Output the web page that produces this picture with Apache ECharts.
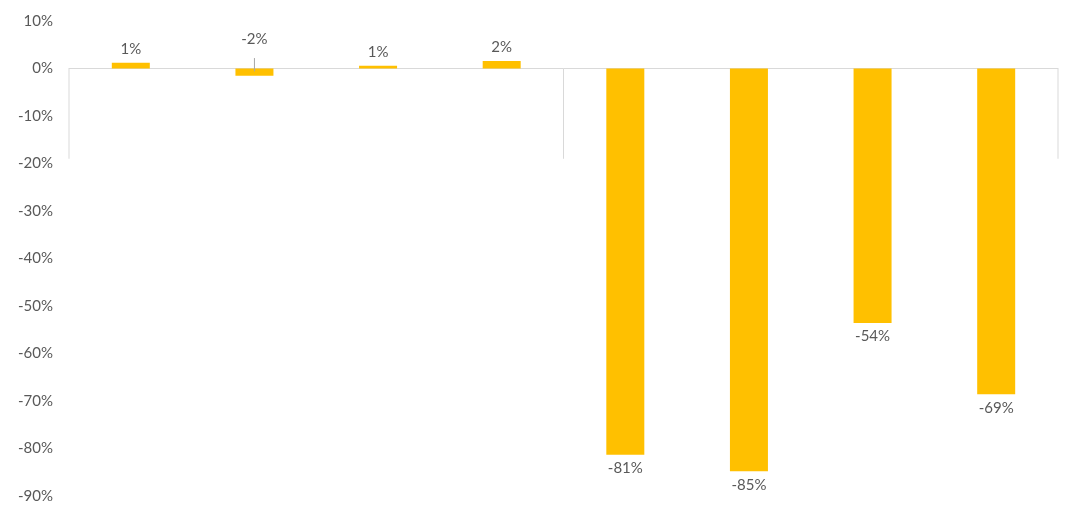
<!DOCTYPE html>
<html><head><meta charset="utf-8">
<script src="https://cdn.jsdelivr.net/npm/echarts@6/dist/echarts.min.js"></script>
<style>html,body{margin:0;background:#fff}#c{width:1080px;height:519px}</style>
</head><body><div id="c"></div>
<script>
var categories = ['Entertainment', 'Fashion', 'Foodservice\nDelivery', 'Foodservice\nDine in',
                  'Entertainment', 'Fashion', 'Foodservice\nDelivery', 'Foodservice\nDine in'];
var groups = ['Pre-Holiday', 'Holiday + COVID-19'];
var groupSpan = [[0, 4], [4, 8]];
var values = [1.2, -1.5, 0.6, 1.6, -81.3, -84.8, -53.6, -68.6];
var valueLabels = ['1%', '-2%', '1%', '2%', '-81%', '-85%', '-54%', '-69%'];

var chart = echarts.init(document.getElementById('c'));
var txt = { color: '#595959', fontFamily: 'Lato', fontSize: 15 };

// separators between groups, down to about -19%
var sepData = [];
[0, 4, 8].forEach(function (x) { sepData.push([x, 0], [x, -19], '-'); });

chart.setOption({
    grid: { left: 69, right: 22, top: 21, bottom: 23 },
    xAxis: [{
        type: 'category', data: categories,
        axisLine: { onZero: true, lineStyle: { color: '#d9d9d9' } },
        axisTick: { show: false },
        axisLabel: { show: false }
    }, {
        type: 'value', min: 0, max: 8, show: false
    }],
    yAxis: {
        type: 'value', min: -90, max: 10, interval: 10,
        axisLine: { show: false }, axisTick: { show: false }, splitLine: { show: false },
        axisLabel: Object.assign({ formatter: '{value}%', margin: 16 }, txt)
    },
    series: [{
        type: 'bar', xAxisIndex: 0, barWidth: 38,
        data: values.map(function (v, i) {
            return { value: v, label: { position: (v >= 0 || i === 1) ? 'top' : 'bottom',
                     distance: i === 1 ? 22 : 6 } };
        }),
        itemStyle: { color: '#FFC000' },
        label: Object.assign({ show: true, formatter: function (p) { return valueLabels[p.dataIndex]; } }, txt)
    }, {
        type: 'scatter', xAxisIndex: 1, symbol: 'none', silent: true,
        data: categories.map(function (c, i) { return [i + 0.5, -7.1, c]; }),
        label: Object.assign({ show: true, position: 'inside', lineHeight: 22,
            formatter: function (p) { return p.value[2]; } }, txt)
    }, {
        type: 'scatter', xAxisIndex: 1, symbol: 'none', silent: true,
        data: groups.map(function (g, i) { return [(groupSpan[i][0] + groupSpan[i][1]) / 2, -16.9, g]; }),
        label: Object.assign({ show: true, position: 'inside',
            formatter: function (p) { return p.value[2]; } }, txt)
    }, {
        type: 'line', xAxisIndex: 1, data: sepData, symbol: 'none', silent: true,
        lineStyle: { color: '#d9d9d9', width: 1 }
    }, {
        type: 'line', xAxisIndex: 1, symbol: 'none', silent: true,
        data: [[1.5, 2.2], [1.5, -0.6]],
        lineStyle: { color: '#a6a6a6', width: 1 }
    }]
});
</script>
</body></html>
